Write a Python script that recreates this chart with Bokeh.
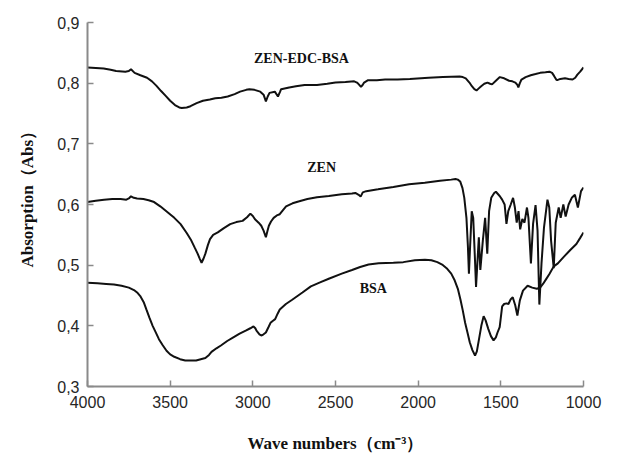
from bokeh.plotting import figure
from bokeh.models import Range1d, FixedTicker, CustomJSTickFormatter, Title
from bokeh.core.properties import value
from bokeh.embed import file_html
from bokeh.resources import INLINE

# ---------------- data ----------------
wn_conj = [4000, 3950, 3902, 3860, 3827, 3771, 3750, 3737, 3715, 3680, 3640, 3610, 3584, 3555,
           3527, 3500, 3471, 3445, 3430, 3400, 3377, 3340, 3302, 3260, 3227, 3190, 3152, 3110,
           3077, 3040, 3021, 2990, 2955, 2935, 2921, 2910, 2899, 2867, 2848, 2835, 2829, 2780,
           2739, 2687, 2612, 2550, 2500, 2440, 2387, 2370, 2359, 2346, 2336, 2327, 2303, 2250,
           2200, 2125, 2050, 1937, 1850, 1750, 1730, 1712, 1690, 1675, 1660, 1647, 1635, 1619,
           1600, 1581, 1565, 1553, 1530, 1506, 1480, 1450, 1430, 1412, 1400, 1394, 1385, 1375,
           1350, 1319, 1290, 1262, 1230, 1206, 1190, 1178, 1165, 1159, 1140, 1112, 1090, 1066,
           1050, 1037, 1020, 1000]
abs_conj = [0.826, 0.825, 0.824, 0.822, 0.820, 0.819, 0.820, 0.823, 0.817, 0.813, 0.809, 0.803,
            0.796, 0.787, 0.779, 0.771, 0.764, 0.760, 0.759, 0.760, 0.762, 0.767, 0.771, 0.773,
            0.775, 0.776, 0.778, 0.782, 0.786, 0.789, 0.790, 0.789, 0.786, 0.781, 0.770, 0.778,
            0.784, 0.786, 0.778, 0.786, 0.790, 0.793, 0.795, 0.797, 0.797, 0.799, 0.801, 0.802,
            0.803, 0.801, 0.798, 0.794, 0.797, 0.801, 0.805, 0.805, 0.806, 0.806, 0.807, 0.809,
            0.810, 0.811, 0.810, 0.808, 0.801, 0.795, 0.790, 0.788, 0.791, 0.795, 0.799, 0.801,
            0.799, 0.798, 0.804, 0.810, 0.808, 0.804, 0.803, 0.801, 0.797, 0.793, 0.800, 0.806,
            0.810, 0.813, 0.815, 0.817, 0.818, 0.819, 0.817, 0.812, 0.806, 0.805, 0.807, 0.808,
            0.807, 0.806, 0.809, 0.814, 0.819, 0.826]

wn_zen = [4000, 3950, 3900, 3850, 3800, 3765, 3750, 3737, 3720, 3700, 3662, 3630, 3597, 3560,
          3512, 3475, 3437, 3400, 3372, 3350, 3334, 3320, 3310, 3298, 3287, 3272, 3259, 3240,
          3212, 3175, 3137, 3100, 3062, 3035, 3015, 3000, 2987, 2965, 2949, 2935, 2921, 2912,
          2903, 2890, 2874, 2855, 2837, 2820, 2799, 2760, 2724, 2670, 2612, 2540, 2462, 2400,
          2380, 2360, 2348, 2335, 2314, 2243, 2150, 2055, 1960, 1868, 1800, 1774, 1760, 1746,
          1732, 1721, 1708, 1699, 1693, 1686, 1676, 1667, 1657, 1650, 1642, 1633, 1624, 1609,
          1595, 1582, 1571, 1558, 1540, 1530, 1507, 1492, 1477, 1466, 1455, 1440, 1426, 1415,
          1404, 1393, 1383, 1370, 1357, 1342, 1333, 1318, 1305, 1290, 1278, 1267, 1254, 1239,
          1218, 1207, 1196, 1180, 1168, 1150, 1138, 1122, 1108, 1090, 1071, 1052, 1034, 1015,
          1000]
abs_zen = [0.604, 0.606, 0.608, 0.609, 0.609, 0.608, 0.610, 0.6135, 0.611, 0.610, 0.609, 0.607,
           0.604, 0.597, 0.5865, 0.578, 0.5676, 0.553, 0.5405, 0.528, 0.519, 0.510, 0.504, 0.511,
           0.519, 0.533, 0.543, 0.550, 0.554, 0.561, 0.5676, 0.571, 0.573, 0.579, 0.585, 0.581,
           0.5757, 0.570, 0.565, 0.557, 0.546, 0.556, 0.565, 0.572, 0.578, 0.582, 0.584, 0.590,
           0.597, 0.602, 0.605, 0.609, 0.612, 0.614, 0.617, 0.618, 0.619, 0.616, 0.613, 0.620,
           0.622, 0.625, 0.629, 0.6335, 0.636, 0.639, 0.641, 0.642, 0.641, 0.638, 0.627, 0.611,
           0.578, 0.530, 0.486, 0.530, 0.589, 0.578, 0.513, 0.464, 0.503, 0.546, 0.492, 0.540,
           0.578, 0.519, 0.589, 0.611, 0.619, 0.621, 0.614, 0.608, 0.600, 0.568, 0.589, 0.600,
           0.611, 0.595, 0.570, 0.589, 0.559, 0.576, 0.570, 0.595, 0.578, 0.503, 0.568, 0.599,
           0.557, 0.435, 0.503, 0.562, 0.608, 0.595, 0.540, 0.495, 0.570, 0.595, 0.578, 0.600,
           0.580, 0.600, 0.611, 0.616, 0.595, 0.622, 0.628]

wn_bsa = [4000, 3940, 3887, 3840, 3794, 3750, 3719, 3700, 3681, 3660, 3644, 3625, 3606, 3585,
          3568, 3545, 3522, 3500, 3475, 3440, 3409, 3375, 3343, 3315, 3287, 3265, 3250, 3220,
          3193, 3155, 3118, 3080, 3043, 3015, 2996, 2985, 2978, 2960, 2949, 2935, 2921, 2905,
          2893, 2880, 2865, 2850, 2837, 2800, 2762, 2700, 2649, 2590, 2537, 2462, 2400, 2351,
          2300, 2239, 2150, 2090, 2020, 1959, 1920, 1884, 1855, 1828, 1800, 1781, 1760, 1744,
          1730, 1716, 1700, 1688, 1672, 1656, 1645, 1632, 1618, 1604, 1592, 1576, 1560, 1544,
          1530, 1520, 1507, 1492, 1480, 1466, 1454, 1440, 1428, 1413, 1400, 1385, 1366, 1338,
          1310, 1282, 1260, 1245, 1226, 1207, 1180, 1155, 1118, 1080, 1043, 1020, 1000]
abs_bsa = [0.471, 0.470, 0.469, 0.468, 0.466, 0.463, 0.459, 0.455, 0.449, 0.439, 0.427, 0.413,
           0.400, 0.388, 0.378, 0.368, 0.359, 0.353, 0.349, 0.345, 0.343, 0.343, 0.343, 0.345,
           0.347, 0.352, 0.357, 0.363, 0.3676, 0.375, 0.381, 0.387, 0.392, 0.396, 0.399, 0.396,
           0.392, 0.386, 0.384, 0.386, 0.389, 0.398, 0.405, 0.408, 0.411, 0.420, 0.427, 0.436,
           0.443, 0.455, 0.465, 0.472, 0.478, 0.486, 0.492, 0.497, 0.501, 0.503, 0.504, 0.505,
           0.508, 0.509, 0.508, 0.505, 0.501, 0.495, 0.486, 0.476, 0.461, 0.443, 0.425, 0.405,
           0.387, 0.373, 0.360, 0.351, 0.358, 0.378, 0.400, 0.416, 0.409, 0.395, 0.383, 0.376,
           0.381, 0.389, 0.398, 0.432, 0.436, 0.437, 0.436, 0.444, 0.447, 0.434, 0.417, 0.442,
           0.458, 0.466, 0.463, 0.461, 0.464, 0.469, 0.477, 0.485, 0.498, 0.503, 0.514, 0.525,
           0.535, 0.545, 0.554]

x_ticks = [4000, 3500, 3000, 2500, 2000, 1500, 1000]
y_ticks = [0.3, 0.4, 0.5, 0.6, 0.7, 0.8, 0.9]

series_names = ["ZEN-EDC-BSA", "ZEN", "BSA"]
name_x = [2706, 2584, 2271]
name_y = [0.841, 0.661, 0.462]

# ---------------- figure ----------------
p = figure(width=626, height=456, x_range=Range1d(4000, 1000), y_range=Range1d(0.3, 0.9),
           output_backend="svg", toolbar_location=None,
           min_border_left=87, min_border_right=43, min_border_top=22, min_border_bottom=70)
p.outline_line_color = None
p.xgrid.visible = False
p.ygrid.visible = False
p.background_fill_color = "white"
p.border_fill_color = "white"

for wn, ab in [(wn_conj, abs_conj), (wn_zen, abs_zen), (wn_bsa, abs_bsa)]:
    p.line(wn, ab, line_color="#111111", line_width=2)

p.text(x=name_x, y=name_y, text=series_names, text_font=value("Liberation Serif"),
       text_font_style="bold", text_font_size="14px", text_align="center",
       text_baseline="middle", text_color="#111111")

axis_gray = "#8a8a8a"
for ax in (p.xaxis[0], p.yaxis[0]):
    ax.axis_line_color = axis_gray
    ax.axis_line_width = 2
    ax.major_tick_line_color = axis_gray
    ax.major_tick_line_width = 1.5
    ax.major_tick_in = 6
    ax.major_tick_out = 0
    ax.minor_tick_line_color = None
    ax.major_label_text_font = "Liberation Sans"
    ax.major_label_text_font_size = "16px"
    ax.major_label_text_color = "#262626"

p.xaxis.ticker = FixedTicker(ticks=x_ticks)
p.yaxis.ticker = FixedTicker(ticks=y_ticks)
p.xaxis.formatter = CustomJSTickFormatter(code="return tick.toFixed(0);")
p.yaxis.formatter = CustomJSTickFormatter(code="return tick.toFixed(1).replace('.', ',');")
p.xaxis.major_label_standoff = 9
p.yaxis.major_label_standoff = 8

p.xaxis.axis_label = "Wave numbers（cm⁻³）"
p.xaxis.axis_label_text_font = "Liberation Serif"
p.xaxis.axis_label_text_font_style = "bold"
p.xaxis.axis_label_text_font_size = "17px"
p.xaxis.axis_label_text_color = "#111111"
p.xaxis.axis_label_standoff = 23

ytitle = Title(text="Absorption（Abs）", align="left", offset=119, standoff=32,
               vertical_align="top",
               text_font="Liberation Serif", text_font_style="bold", text_font_size="17px",
               text_color="#111111")
p.add_layout(ytitle, "left")

open("out.html", "w").write(file_html(p, INLINE))
